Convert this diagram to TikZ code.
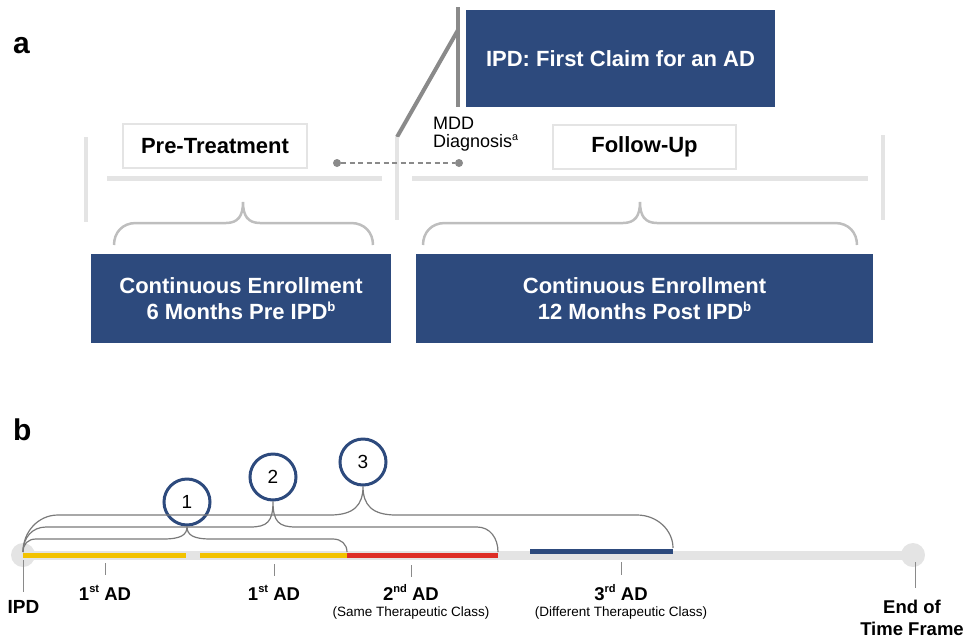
\documentclass[tikz,border=0pt]{standalone}
\usepackage{graphicx}
\usepackage{fontspec}
\setmainfont{Liberation Sans}

\definecolor{adblue}{HTML}{2D4A7D}
\definecolor{adyellow}{HTML}{F2C200}
\definecolor{adred}{HTML}{DE2E26}
\definecolor{lightline}{HTML}{E4E4E4}
\definecolor{bracegray}{HTML}{BEBEBE}
\definecolor{darkline}{HTML}{8A8A8A}
\definecolor{braceline}{HTML}{7A7A7A}

\newcommand{\supmark}[1]{\raisebox{0.38em}{\scalebox{0.6}{#1}}}

\begin{document}
\begin{tikzpicture}[x=1pt, y=-1pt,
    bluebox/.style={fill=adblue, text=white, font=\bfseries\fontsize{22}{26}\selectfont, align=center, inner sep=0pt},
    phasebox/.style={draw=lightline, line width=2pt, fill=white, font=\bfseries\fontsize{22}{26}\selectfont, minimum height=44pt, inner sep=0pt},
    numring/.style={circle, draw=adblue, line width=3pt, fill=white, minimum size=46pt, inner sep=0pt, font=\fontsize{19}{19}\selectfont},
    dotnode/.style={circle, fill=darkline, minimum size=8pt, inner sep=0pt},
    panellabel/.style={anchor=base west, inner sep=0pt, font=\bfseries\fontsize{30}{30}\selectfont},
    adlabel/.style={anchor=base, inner sep=0pt, font=\bfseries\fontsize{18.5}{20}\selectfont},
    classlabel/.style={anchor=base, inner sep=0pt, font=\fontsize{13.5}{14}\selectfont},
    tickline/.style={darkline, line width=1pt}]

    \useasboundingbox (0,0) rectangle (967,638);

    %--------------------%
    % Parameters
    %--------------------%
    \def\linethic{4pt}
    \def\barthic{5pt}
    \def\bracethic{2.5pt}
    \def\thinbrace{1.2pt}

    %--------------------%
    % Panel a
    %--------------------%
    \node[panellabel] (labela) at (13,53) {a};

    % IPD marker
    \node[bluebox, minimum width=309pt, minimum height=97pt] (ipdbox) at (620.5,58.5) {IPD: First Claim for an AD};
    \coordinate (ipdtop) at (458,7);
    \coordinate (ipdbot) at (458,107);
    \coordinate (kink) at (458,30);
    \coordinate (sepmid) at (397,137);
    \draw[darkline, line width=\linethic] (ipdtop) -- (ipdbot);
    \draw[darkline, line width=\linethic] (kink) -- (sepmid);

    % Separators
    \coordinate (sepleft) at (86,137);
    \coordinate (sepright) at (883,135);
    \draw[lightline, line width=\linethic] (sepleft) -- ++(0,85);
    \draw[lightline, line width=\linethic] (sepmid) -- ++(0,83);
    \draw[lightline, line width=\linethic] (sepright) -- ++(0,85);

    % Phase lines
    \coordinate (preA) at (107,178);
    \coordinate (preB) at (382,178);
    \coordinate (postA) at (412,178);
    \coordinate (postB) at (868,178);
    \draw[lightline, line width=\barthic] (preA) -- (preB);
    \draw[lightline, line width=\barthic] (postA) -- (postB);

    % Phase labels
    \node[phasebox, minimum width=184pt] (pretreat) at (215,146) {Pre-Treatment};
    \node[phasebox, minimum width=183pt] (followup) at (644.5,146.5) {Follow-Up};

    % MDD diagnosis
    \node[anchor=north west, inner sep=0pt, align=left, font=\fontsize{18}{18}\selectfont] (mdd) at (433,117) {MDD\\Diagnosis\supmark{a}};
    \node[dotnode] (dotA) at (337,163) {};
    \node[dotnode] (dotB) at (459,163) {};
    \draw[darkline, line width=1.5pt, dash pattern=on 5pt off 3.5pt] (dotA) -- (dotB);

    % Braces
    \coordinate (lbA) at (114,245);
    \coordinate (lbtip) at (243,202);
    \coordinate (lbB) at (373,245);
    \draw[bracegray, line width=\bracethic] (lbA) .. controls (114,233) and (122,223) .. (136,223)
        -- (226,223) .. controls (238,223) and (243,216) .. (lbtip)
        .. controls (243,216) and (248,223) .. (260,223)
        -- (351,223) .. controls (365,223) and (373,233) .. (lbB);
    \coordinate (rbA) at (423,245);
    \coordinate (rbtip) at (640,202);
    \coordinate (rbB) at (857,245);
    \draw[bracegray, line width=\bracethic] (rbA) .. controls (423,233) and (431,223) .. (445,223)
        -- (623,223) .. controls (635,223) and (640,216) .. (rbtip)
        .. controls (640,216) and (645,223) .. (657,223)
        -- (835,223) .. controls (849,223) and (857,233) .. (rbB);

    % Enrollment boxes
    \node[bluebox, minimum width=300pt, minimum height=89pt] (prebox) at (241,298.5) {Continuous Enrollment\\6 Months Pre IPD\supmark{b}};
    \node[bluebox, minimum width=457pt, minimum height=89pt] (postbox) at (644.5,298.5) {Continuous Enrollment\\12 Months Post IPD\supmark{b}};

    %--------------------%
    % Panel b
    %--------------------%
    \node[panellabel] (labelb) at (13,440) {b};

    % Time line
    \coordinate (ipd) at (23,555);
    \coordinate (eot) at (913,555);
    \draw[lightline, line width=9pt] (ipd) -- (eot);
    \fill[lightline] (ipd) circle (12);
    \fill[lightline] (eot) circle (12);

    % Treatment bars
    \coordinate (yA) at (23,555);
    \coordinate (yB) at (186,555);
    \coordinate (yC) at (200,555);
    \coordinate (yD) at (347,555);
    \coordinate (rD) at (498,555);
    \coordinate (bA) at (530,551);
    \coordinate (bB) at (673,551);
    \draw[adyellow, line width=\barthic] (yA) -- (yB);
    \draw[adyellow, line width=\barthic] (yC) -- (yD);
    \draw[adred, line width=\barthic] (yD) -- (rD);
    \draw[adblue, line width=\barthic] (bA) -- (bB);

    % Numbered circles
    \node[numring] (c1) at (187,502) {1};
    \node[numring] (c2) at (273,477) {2};
    \node[numring] (c3) at (363,462) {3};

    % Brace ends
    \coordinate (bstart) at (23,552);
    \coordinate (e1) at (347,552);
    \coordinate (e2) at (498,552);
    \coordinate (e3) at (673,548);

    \draw[braceline, line width=\thinbrace] (bstart) .. controls (23,544) and (28,539) .. (36,539)
        -- (163,539) .. controls (181,539) and (187,535) .. (c1.south)
        .. controls (187,535) and (193,539) .. (211,539)
        -- (333,539) .. controls (341,539) and (347,544) .. (e1);
    \draw[braceline, line width=\thinbrace] (bstart) .. controls (23,538) and (32,527) .. (46,527)
        -- (250,527) .. controls (267,527) and (273,522) .. (c2.south)
        .. controls (273,522) and (279,527) .. (296,527)
        -- (477,527) .. controls (490,527) and (498,538) .. (e2);
    \draw[braceline, line width=\thinbrace] (bstart) .. controls (23,532) and (38,515) .. (58,515)
        -- (330,515) .. controls (354,515) and (363,505) .. (c3.south)
        .. controls (363,505) and (372,515) .. (396,515)
        -- (637,515) .. controls (657,515) and (673,530) .. (e3);

    % Ticks
    \coordinate (tipd) at (23,560);
    \coordinate (t1) at (105,563);
    \coordinate (t2) at (274,564);
    \coordinate (t3) at (411,565);
    \coordinate (t4) at (621,562);
    \coordinate (teot) at (915,562);
    \draw[tickline] (tipd) -- ++(0,32);
    \draw[tickline] (t1) -- ++(0,12);
    \draw[tickline] (t2) -- ++(0,12);
    \draw[tickline] (t3) -- ++(0,12);
    \draw[tickline] (t4) -- ++(0,13);
    \draw[tickline] (teot) -- ++(0,26);

    % Labels
    \node[adlabel, font=\bfseries\fontsize{19}{20}\selectfont] (ipdlabel) at (23.5,613) {IPD};
    \node[adlabel] (ad1) at (105,600) {1\supmark{st} AD};
    \node[adlabel] (ad1b) at (274,600) {1\supmark{st} AD};
    \node[adlabel] (ad2) at (411,600) {2\supmark{nd} AD};
    \node[classlabel] (cls2) at (411,616) {(Same Therapeutic Class)};
    \node[adlabel] (ad3) at (621,600) {3\supmark{rd} AD};
    \node[classlabel] (cls3) at (621,616) {(Different Therapeutic Class)};
    \node[adlabel] (eotA) at (912,613) {End of};
    \node[adlabel] (eotB) at (912,635) {Time Frame};
\end{tikzpicture}
\end{document}
